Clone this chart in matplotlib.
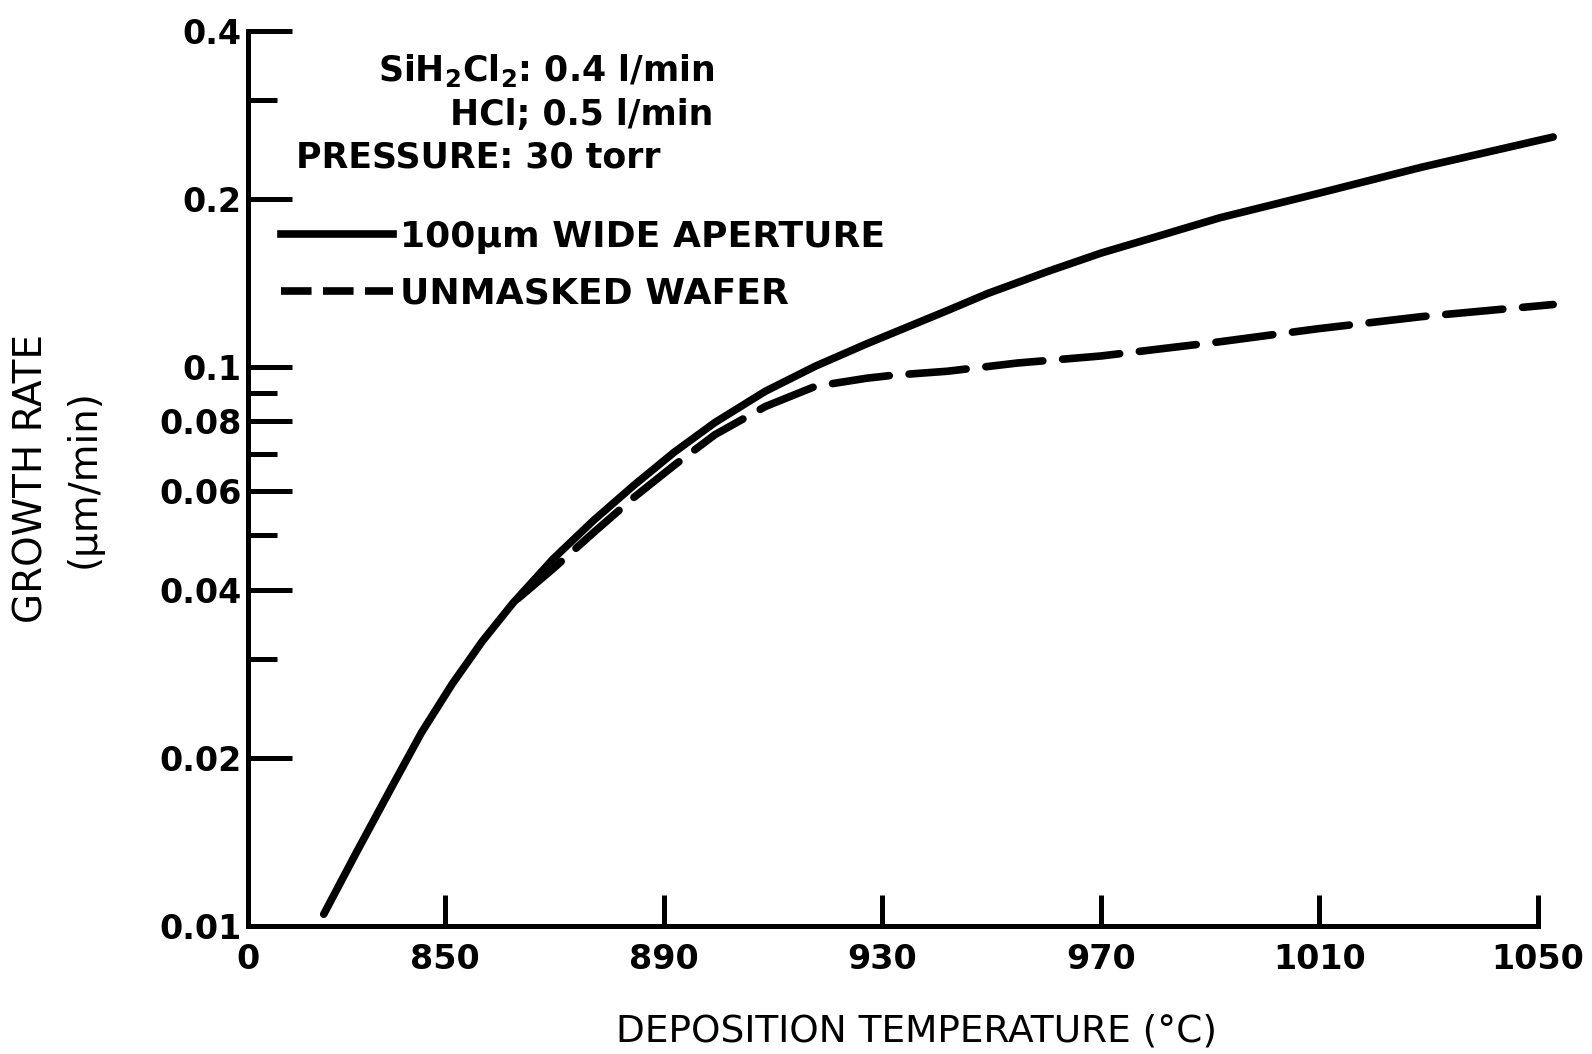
import numpy as np
import matplotlib
matplotlib.use("Agg")
import matplotlib.pyplot as plt
from matplotlib.lines import Line2D
from matplotlib.ticker import NullFormatter

# ===============================
# Data
# ===============================
# 100 um wide aperture (solid)
t_aperture = [827.8, 833.7, 840.2, 845.7, 851.3, 856.8, 862.4, 869.8, 877.2,
              884.6, 892.0, 899.4, 908.6, 917.8, 927.1, 941.9, 949.3, 960.4,
              970.1, 980.7, 991.8, 1009.7, 1028.7, 1052.8]
g_aperture = [0.0105, 0.0135, 0.0177, 0.0222, 0.0271, 0.0323, 0.0378, 0.0454,
              0.0532, 0.0615, 0.0705, 0.0796, 0.0905, 0.1004, 0.110, 0.1262,
              0.1354, 0.1484, 0.160, 0.1717, 0.185, 0.2044, 0.2278, 0.258]

# unmasked wafer (dashed)
t_wafer = [863.3, 869.8, 877.2, 884.6, 892.0, 899.4, 908.6, 917.8, 927.1,
           932.0, 941.9, 954.8, 970.1, 991.8, 1009.7, 1028.7, 1052.8]
g_wafer = [0.0385, 0.0436, 0.0506, 0.0585, 0.0668, 0.0757, 0.0850, 0.0924,
           0.0955, 0.0967, 0.0983, 0.1017, 0.1047, 0.1110, 0.1171, 0.1231,
           0.1294]

x_ticks = [814, 850, 890, 930, 970, 1010, 1050]
x_labels = ["0", "850", "890", "930", "970", "1010", "1050"]
y_major = [0.01, 0.02, 0.04, 0.06, 0.08, 0.1, 0.2, 0.4]
y_labels = ["0.01", "0.02", "0.04", "0.06", "0.08", "0.1", "0.2", "0.4"]
y_minor = [0.03, 0.05, 0.07, 0.09, 0.3]

# ===============================
# Plot
# ===============================
plt.rcParams["font.family"] = ["DejaVu Sans"]
plt.rcParams["mathtext.fontset"] = "dejavusans"

fig = plt.figure(figsize=(15.92, 10.54), dpi=100)
ax = fig.add_axes([0.156, 0.1214, 0.81, 0.8496])

LW = 5.5
ax.plot(t_aperture, g_aperture, color="k", lw=LW, solid_capstyle="round",
        solid_joinstyle="round", clip_on=False)
ax.plot(t_wafer, g_wafer, color="k", lw=LW, dashes=(7.5, 2.6),
        dash_capstyle="round", clip_on=False)

ax.set_yscale("log")
ax.set_xlim(814, 1050)
ax.set_ylim(0.01, 0.4)

for s in ["top", "right"]:
    ax.spines[s].set_visible(False)
for s in ["left", "bottom"]:
    ax.spines[s].set_linewidth(3.6)

ax.set_xticks(x_ticks, x_labels)
ax.set_yticks(y_major, y_labels)
ax.set_yticks(y_minor, minor=True)
ax.yaxis.set_minor_formatter(NullFormatter())
ax.xaxis.set_minor_formatter(NullFormatter())

ax.tick_params(axis="x", direction="in", length=22, width=3.6, pad=12,
               labelsize=24)
ax.tick_params(axis="y", which="major", direction="in", length=32, width=3.6,
               pad=5, labelsize=24)
ax.tick_params(axis="y", which="minor", direction="in", length=21, width=3.6)
for lab in ax.get_xticklabels() + ax.get_yticklabels():
    lab.set_fontweight("bold")

ax.set_xlabel("DEPOSITION TEMPERATURE (°C)", fontsize=27)
ax.xaxis.set_label_coords(0.518, -0.098)
ax.set_ylabel("GROWTH RATE\n(μm/min)", fontsize=28, linespacing=1.45)
ax.yaxis.label.set_va("center")
ax.yaxis.set_label_coords(-0.148, 0.5)

# conditions
ax.text(0.361, 0.944, r"SiH$_\mathbf{2}$Cl$_\mathbf{2}$: 0.4 l/min",
        transform=ax.transAxes, ha="right", va="baseline", fontsize=25,
        fontweight="bold")
ax.text(0.361, 0.894, "HCl; 0.5 l/min", transform=ax.transAxes, ha="right",
        va="baseline", fontsize=25, fontweight="bold")
ax.text(0.037, 0.847, "PRESSURE: 30 torr", transform=ax.transAxes, ha="left",
        va="baseline", fontsize=25, fontweight="bold")

handles = [
    Line2D([], [], color="k", lw=LW),
    Line2D([], [], color="k", lw=LW, dashes=(4, 1.5)),
]
ax.legend(handles, ["100μm WIDE APERTURE", "UNMASKED WAFER"],
          loc="upper left", bbox_to_anchor=(0.025, 0.789), frameon=False,
          borderpad=0, borderaxespad=0, handlelength=3.1, handletextpad=0.2,
          labelspacing=0.65, prop={"size": 26, "weight": "bold"})

fig.savefig("out.png", dpi=100)
